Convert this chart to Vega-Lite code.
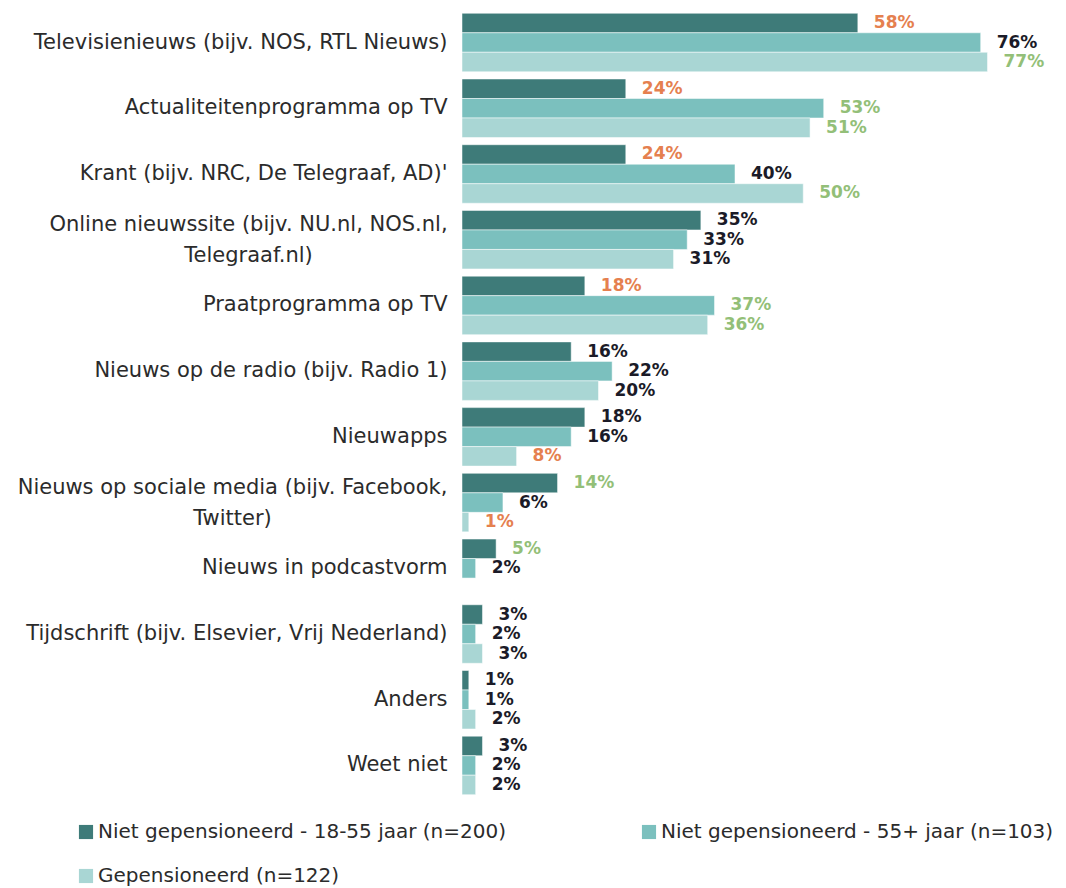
{
  "$schema": "https://vega.github.io/schema/vega-lite/v6.json",
  "autosize": {"type": "none"},
  "padding": {"left": 462, "top": 10, "right": 0, "bottom": 90},
  "width": 604,
  "height": 788,
  "background": "white",
  "config": {"view": {"stroke": null}, "font": "DejaVu Sans"},
  "data": {
    "values": [
      {"cat": "Televisienieuws (bijv. NOS, RTL Nieuws)", "group": "Niet gepensioneerd - 18-55 jaar (n=200)", "pct": 58, "sig": "lager"},
      {"cat": "Televisienieuws (bijv. NOS, RTL Nieuws)", "group": "Niet gepensioneerd - 55+ jaar (n=103)", "pct": 76, "sig": "geen"},
      {"cat": "Televisienieuws (bijv. NOS, RTL Nieuws)", "group": "Gepensioneerd (n=122)", "pct": 77, "sig": "hoger"},
      {"cat": "Actualiteitenprogramma op TV", "group": "Niet gepensioneerd - 18-55 jaar (n=200)", "pct": 24, "sig": "lager"},
      {"cat": "Actualiteitenprogramma op TV", "group": "Niet gepensioneerd - 55+ jaar (n=103)", "pct": 53, "sig": "hoger"},
      {"cat": "Actualiteitenprogramma op TV", "group": "Gepensioneerd (n=122)", "pct": 51, "sig": "hoger"},
      {"cat": "Krant (bijv. NRC, De Telegraaf, AD)'", "group": "Niet gepensioneerd - 18-55 jaar (n=200)", "pct": 24, "sig": "lager"},
      {"cat": "Krant (bijv. NRC, De Telegraaf, AD)'", "group": "Niet gepensioneerd - 55+ jaar (n=103)", "pct": 40, "sig": "geen"},
      {"cat": "Krant (bijv. NRC, De Telegraaf, AD)'", "group": "Gepensioneerd (n=122)", "pct": 50, "sig": "hoger"},
      {"cat": "Online nieuwssite (bijv. NU.nl, NOS.nl,|Telegraaf.nl)", "group": "Niet gepensioneerd - 18-55 jaar (n=200)", "pct": 35, "sig": "geen"},
      {"cat": "Online nieuwssite (bijv. NU.nl, NOS.nl,|Telegraaf.nl)", "group": "Niet gepensioneerd - 55+ jaar (n=103)", "pct": 33, "sig": "geen"},
      {"cat": "Online nieuwssite (bijv. NU.nl, NOS.nl,|Telegraaf.nl)", "group": "Gepensioneerd (n=122)", "pct": 31, "sig": "geen"},
      {"cat": "Praatprogramma op TV", "group": "Niet gepensioneerd - 18-55 jaar (n=200)", "pct": 18, "sig": "lager"},
      {"cat": "Praatprogramma op TV", "group": "Niet gepensioneerd - 55+ jaar (n=103)", "pct": 37, "sig": "hoger"},
      {"cat": "Praatprogramma op TV", "group": "Gepensioneerd (n=122)", "pct": 36, "sig": "hoger"},
      {"cat": "Nieuws op de radio (bijv. Radio 1)", "group": "Niet gepensioneerd - 18-55 jaar (n=200)", "pct": 16, "sig": "geen"},
      {"cat": "Nieuws op de radio (bijv. Radio 1)", "group": "Niet gepensioneerd - 55+ jaar (n=103)", "pct": 22, "sig": "geen"},
      {"cat": "Nieuws op de radio (bijv. Radio 1)", "group": "Gepensioneerd (n=122)", "pct": 20, "sig": "geen"},
      {"cat": "Nieuwapps", "group": "Niet gepensioneerd - 18-55 jaar (n=200)", "pct": 18, "sig": "geen"},
      {"cat": "Nieuwapps", "group": "Niet gepensioneerd - 55+ jaar (n=103)", "pct": 16, "sig": "geen"},
      {"cat": "Nieuwapps", "group": "Gepensioneerd (n=122)", "pct": 8, "sig": "lager"},
      {"cat": "Nieuws op sociale media (bijv. Facebook,|Twitter)", "group": "Niet gepensioneerd - 18-55 jaar (n=200)", "pct": 14, "sig": "hoger"},
      {"cat": "Nieuws op sociale media (bijv. Facebook,|Twitter)", "group": "Niet gepensioneerd - 55+ jaar (n=103)", "pct": 6, "sig": "geen"},
      {"cat": "Nieuws op sociale media (bijv. Facebook,|Twitter)", "group": "Gepensioneerd (n=122)", "pct": 1, "sig": "lager"},
      {"cat": "Nieuws in podcastvorm", "group": "Niet gepensioneerd - 18-55 jaar (n=200)", "pct": 5, "sig": "hoger"},
      {"cat": "Nieuws in podcastvorm", "group": "Niet gepensioneerd - 55+ jaar (n=103)", "pct": 2, "sig": "geen"},
      {"cat": "Tijdschrift (bijv. Elsevier, Vrij Nederland)", "group": "Niet gepensioneerd - 18-55 jaar (n=200)", "pct": 3, "sig": "geen"},
      {"cat": "Tijdschrift (bijv. Elsevier, Vrij Nederland)", "group": "Niet gepensioneerd - 55+ jaar (n=103)", "pct": 2, "sig": "geen"},
      {"cat": "Tijdschrift (bijv. Elsevier, Vrij Nederland)", "group": "Gepensioneerd (n=122)", "pct": 3, "sig": "geen"},
      {"cat": "Anders", "group": "Niet gepensioneerd - 18-55 jaar (n=200)", "pct": 1, "sig": "geen"},
      {"cat": "Anders", "group": "Niet gepensioneerd - 55+ jaar (n=103)", "pct": 1, "sig": "geen"},
      {"cat": "Anders", "group": "Gepensioneerd (n=122)", "pct": 2, "sig": "geen"},
      {"cat": "Weet niet", "group": "Niet gepensioneerd - 18-55 jaar (n=200)", "pct": 3, "sig": "geen"},
      {"cat": "Weet niet", "group": "Niet gepensioneerd - 55+ jaar (n=103)", "pct": 2, "sig": "geen"},
      {"cat": "Weet niet", "group": "Gepensioneerd (n=122)", "pct": 2, "sig": "geen"}
    ]
  },
  "encoding": {
    "y": {
      "field": "cat", "type": "nominal", "sort": null, "title": null,
      "scale": {"paddingInner": 0.11, "paddingOuter": 0.05},
      "axis": {
        "domain": false, "ticks": false,
        "labelFontSize": 21, "labelColor": "#2b2b2b", "labelLimit": 460,
        "labelExpr": "split(datum.label, '|')", "labelLineHeight": 31,
        "labelAlign": {"condition": {"test": "indexof(datum.value, '|') >= 0", "value": "center"}, "value": "right"},
        "labelPadding": {"condition": [
          {"test": "indexof(datum.value, 'Online') >= 0", "value": 214},
          {"test": "indexof(datum.value, 'sociale') >= 0", "value": 230}
        ], "value": 15},
        "labelOffset": {"condition": {"test": "indexof(datum.value, '|') >= 0", "value": -15}, "value": 0}
      }
    },
    "yOffset": {
      "field": "group", "type": "nominal",
      "sort": ["Niet gepensioneerd - 18-55 jaar (n=200)", "Niet gepensioneerd - 55+ jaar (n=103)", "Gepensioneerd (n=122)"],
      "scale": {"paddingInner": 0, "paddingOuter": 0}
    },
    "x": {
      "field": "pct", "type": "quantitative",
      "scale": {"domain": [0, 88.5], "nice": false},
      "axis": null
    }
  },
  "layer": [
    {
      "mark": {"type": "bar", "stroke": "white", "strokeWidth": 0.5},
      "encoding": {
        "color": {
          "field": "group", "type": "nominal",
          "sort": ["Niet gepensioneerd - 18-55 jaar (n=200)", "Niet gepensioneerd - 55+ jaar (n=103)", "Gepensioneerd (n=122)"],
          "scale": {
            "domain": ["Niet gepensioneerd - 18-55 jaar (n=200)", "Niet gepensioneerd - 55+ jaar (n=103)", "Gepensioneerd (n=122)"],
            "range": ["#3e7b79", "#7bc0be", "#a9d6d4"]
          },
          "legend": {
            "title": null, "orient": "none", "legendX": -386, "legendY": 812,
            "direction": "horizontal", "columns": 2, "columnPadding": 132, "rowPadding": 24,
            "symbolType": "square", "symbolSize": 200, "symbolStrokeWidth": 0,
            "labelFontSize": 20, "labelColor": "#2b2b2b", "labelLimit": 600, "labelOffset": 2
          }
        }
      }
    },
    {
      "mark": {"type": "text", "align": "left", "baseline": "middle", "dx": 16, "fontSize": 17, "fontWeight": "bold", "text": {"expr": "datum.pct + '%'"}},
      "encoding": {
        "color": {
          "field": "sig", "type": "nominal",
          "scale": {"domain": ["lager", "geen", "hoger"], "range": ["#e5804f", "#1b1b28", "#93bf78"]},
          "legend": null
        }
      }
    }
  ],
  "resolve": {"scale": {"color": "independent"}}
}
